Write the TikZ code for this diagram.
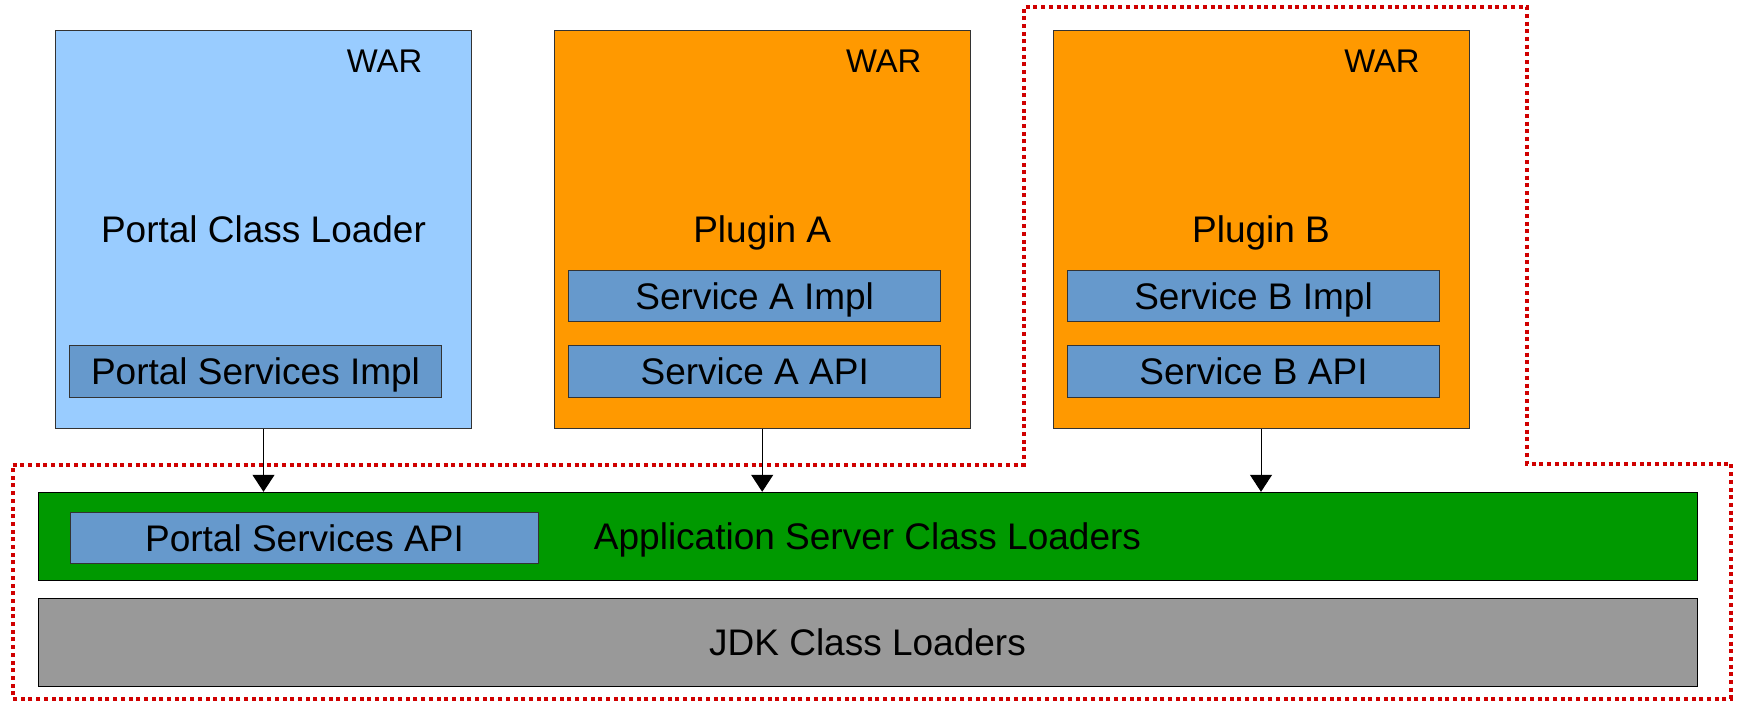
\documentclass[tikz,border=0pt]{standalone}
\usepackage{fontspec}
\setmainfont{Liberation Sans}
\usetikzlibrary{arrows.meta}
\definecolor{warblue}{HTML}{99CCFF}
\definecolor{plugorange}{HTML}{FF9900}
\definecolor{svcblue}{HTML}{6699CC}
\definecolor{asgreen}{HTML}{009900}
\definecolor{jdkgray}{HTML}{999999}
\definecolor{dotred}{HTML}{D00000}
\begin{document}
\begin{tikzpicture}[x=1pt,y=-1pt,
  box/.style={draw=black!80, line width=1pt, rectangle, inner sep=0pt,
    font=\fontsize{37}{40}\selectfont, text height=26.5pt, text depth=0pt},
  warbox/.style={box, minimum width=416pt, minimum height=398pt},
  svcbox/.style={box, fill=svcblue, minimum width=371.5pt, minimum height=51.7pt},
  layerbox/.style={box, draw=black, minimum width=1659pt, minimum height=88pt},
  warlabel/.style={inner sep=0pt, font=\fontsize{32.8}{35}\selectfont, text height=23.5pt, text depth=0pt},
  arr/.style={line width=1pt, -{Triangle[length=17pt,width=22pt]}},
  zone/.style={draw=dotred, line width=4pt, dash pattern=on 4pt off 3.7pt}
]
\useasboundingbox[fill=white] (0,0) rectangle (1739,701);

\draw[zone] (12.5,464.5) -- (1023.5,464.5) -- (1023.5,7) -- (1527,7) -- (1527,463.5)
  -- (1731,463.5) -- (1731,698.5) -- (12.5,698.5) -- cycle;

\node[warbox, fill=warblue] (portal) at (263.5,229.1) {Portal Class Loader};
\node[warbox, fill=plugorange] (plugA) at (762.2,229.1) {Plugin A};
\node[warbox, fill=plugorange] (plugB) at (1261,229.1) {Plugin B};

\node[warlabel] (warP) at (384.6,60.5) {WAR};
\node[warlabel] (warA) at (883.7,60.5) {WAR};
\node[warlabel] (warB) at (1382,60.5) {WAR};

\node[svcbox] (psimpl) at (255.5,371.5) {Portal Services Impl};
\node[svcbox] (saimpl) at (754.7,296) {Service A Impl};
\node[svcbox] (saapi) at (754.7,371.5) {Service A API};
\node[svcbox] (sbimpl) at (1253.5,296) {Service B Impl};
\node[svcbox] (sbapi) at (1253.5,371.5) {Service B API};

\node[layerbox, fill=asgreen] (app) at (867.5,536.3) {Application Server Class Loaders};
\node[layerbox, fill=jdkgray] (jdk) at (867.5,642.2) {JDK Class Loaders};
\node[svcbox, minimum width=468pt] (psapi) at (304.5,537.9) {Portal Services API};

\draw[arr] (portal.south) -- (portal.south |- app.north);
\draw[arr] (plugA.south) -- (plugA.south |- app.north);
\draw[arr] (plugB.south) -- (plugB.south |- app.north);
\end{tikzpicture}
\end{document}
